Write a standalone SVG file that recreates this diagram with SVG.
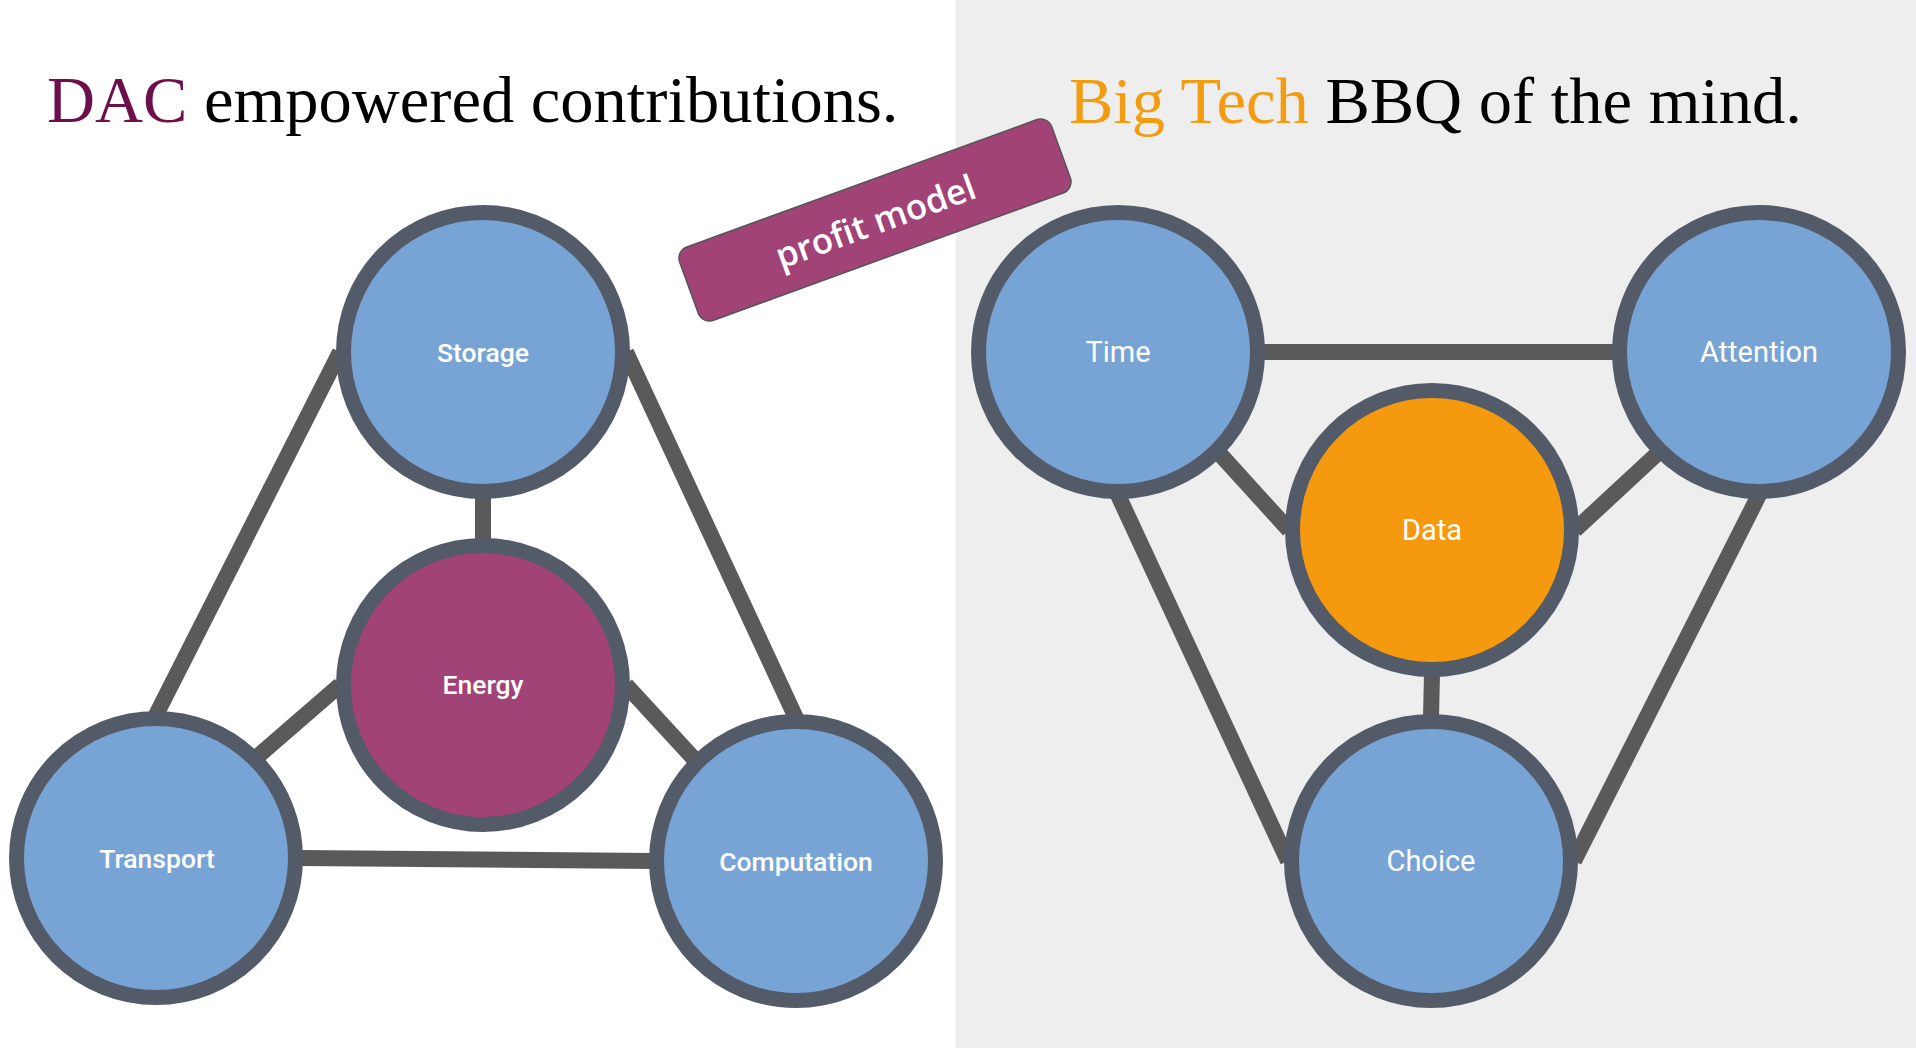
<svg xmlns="http://www.w3.org/2000/svg" width="1916" height="1048" viewBox="0 0 1916 1048">
<style>
.node{fill:#78a4d5;stroke:#535b69;stroke-width:15}
.energy{fill:#a14377}
.data{fill:#f5990f}
.edge{stroke:#5a5a5a;stroke-width:16;fill:none}
.lbl{font-family:Roboto,"Liberation Sans",sans-serif;fill:#ffffff;text-anchor:middle}
.lL{font-size:26.5px;font-weight:500}
.lR{font-size:29px;font-weight:400}
.title{font-family:"Liberation Serif",serif;font-size:66.5px;fill:#000000}
</style>
<rect x="0" y="0" width="1916" height="1048" fill="#ffffff"/>
<rect x="956" y="0" width="960" height="1048" fill="#eeeeee"/>
<text class="title" x="47" y="122"><tspan fill="#6d0f4b">DAC</tspan> empowered contributions.</text>
<text class="title" x="1069" y="123"><tspan fill="#f39c12">Big Tech</tspan> BBQ of the mind.</text>
<g id="connectors">
<line class="edge" x1="340" y1="352" x2="156" y2="715"/>
<line class="edge" x1="626" y1="352" x2="796" y2="718"/>
<line class="edge" x1="483" y1="495" x2="483" y2="542"/>
<line class="edge" x1="340" y1="685" x2="257" y2="757"/>
<line class="edge" x1="626" y1="685" x2="695" y2="760"/>
<line class="edge" x1="299" y1="858" x2="653" y2="861"/>
<line class="edge" x1="1261" y1="352" x2="1616" y2="352"/>
<line class="edge" x1="1219" y1="453" x2="1289" y2="530"/>
<line class="edge" x1="1575" y1="530" x2="1658" y2="453"/>
<line class="edge" x1="1118" y1="495" x2="1288" y2="861"/>
<line class="edge" x1="1759" y1="495" x2="1574" y2="861"/>
<line class="edge" x1="1432" y1="673" x2="1431" y2="718"/>
</g>
<g id="storage"><circle class="node" cx="483" cy="352" r="139.5"/><text class="lbl lL" x="483" y="362">Storage</text></g>
<g id="energy"><circle class="node energy" cx="483" cy="685" r="139.5"/><text class="lbl lL" x="483" y="694">Energy</text></g>
<g id="transport"><circle class="node" cx="156" cy="858" r="139.5"/><text class="lbl lL" x="157" y="868">Transport</text></g>
<g id="computation"><circle class="node" cx="796" cy="861" r="139.5"/><text class="lbl lL" x="796" y="871">Computation</text></g>
<g id="time"><circle class="node" cx="1118" cy="352" r="139.5"/><text class="lbl lR" x="1118" y="362">Time</text></g>
<g id="attention"><circle class="node" cx="1759" cy="352" r="139.5"/><text class="lbl lR" x="1759" y="362">Attention</text></g>
<g id="data"><circle class="node data" cx="1432" cy="530" r="139.5"/><text class="lbl lR" x="1432" y="540">Data</text></g>
<g id="choice"><circle class="node" cx="1431" cy="861" r="139.5"/><text class="lbl lR" x="1431" y="871">Choice</text></g>
<g id="profit-model" transform="translate(875,220) rotate(-20)">
<rect x="-198" y="-39" width="396" height="78" rx="12" ry="12" fill="#a14377" stroke="#555555" stroke-width="1.5"/>
<text x="0" y="14" font-family="'Open Sans','Noto Sans',sans-serif" font-size="35" font-weight="600" fill="#ffffff" text-anchor="middle">profit model</text>
</g>
</svg>
